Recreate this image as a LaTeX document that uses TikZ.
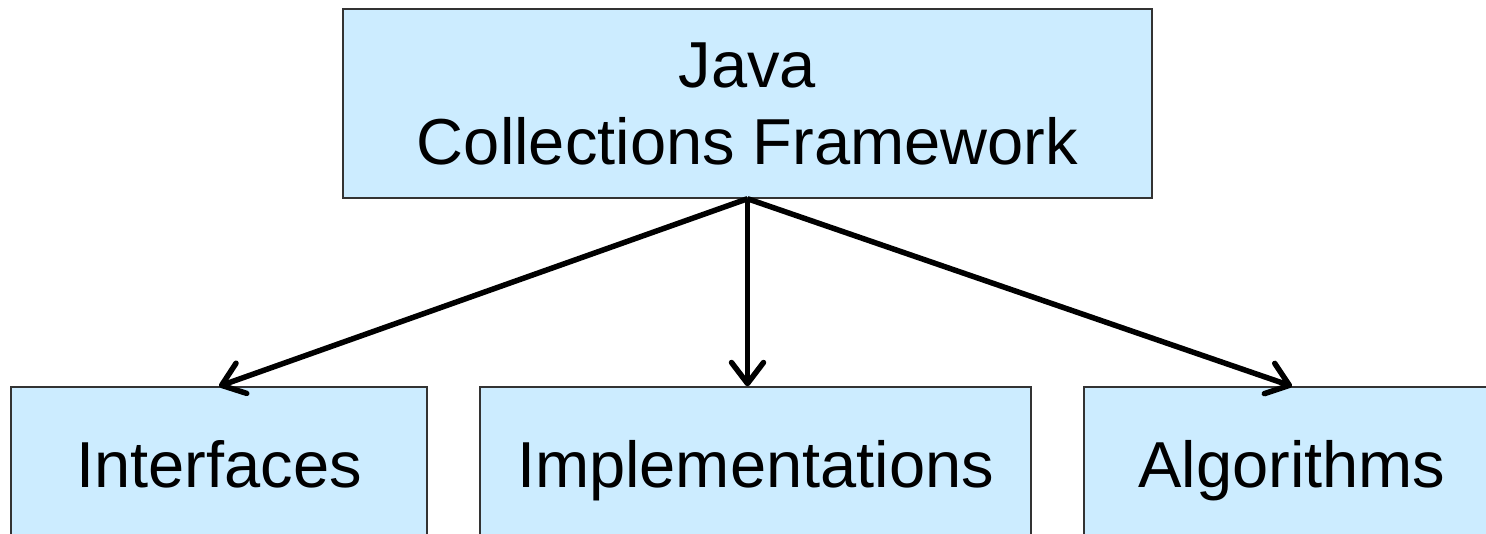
\documentclass[tikz,border=0pt]{standalone}
\usepackage{fontspec}
\setmainfont{Liberation Sans}
\usetikzlibrary{arrows.meta}
\definecolor{boxblue}{HTML}{CCECFF}
\definecolor{boxline}{HTML}{333333}
\begin{document}
\begin{tikzpicture}[x=1pt,y=-1pt,
  box/.style={draw=boxline,line width=1.5pt,fill=boxblue,inner sep=0pt,
    font=\fontsize{65}{77}\selectfont,align=center},
  lowbox/.style={box,text height=47pt,text depth=14pt,minimum height=167pt},
  conn/.style={line width=5.5pt,-{Straight Barb[length=21pt,width=32pt,line cap=round,line join=round]}}]
\useasboundingbox (0,0) rectangle (1486,533);
\node[box,minimum width=809pt,minimum height=189pt] (top) at (747.5,103.5) {Java\\Collections Framework};
\node[lowbox,minimum width=416pt] (intf) at (219,470.5) {Interfaces};
\node[lowbox,minimum width=551pt] (impl) at (755.5,470.5) {Implementations};
\node[lowbox,minimum width=416pt] (algo) at (1292,470.5) {Algorithms};
\draw[conn] (top.south) -- (intf.north);
\draw[conn] (top.south) -- (impl.north -| top.south);
\draw[conn] (top.south) -- (algo.north);
\end{tikzpicture}
\end{document}
